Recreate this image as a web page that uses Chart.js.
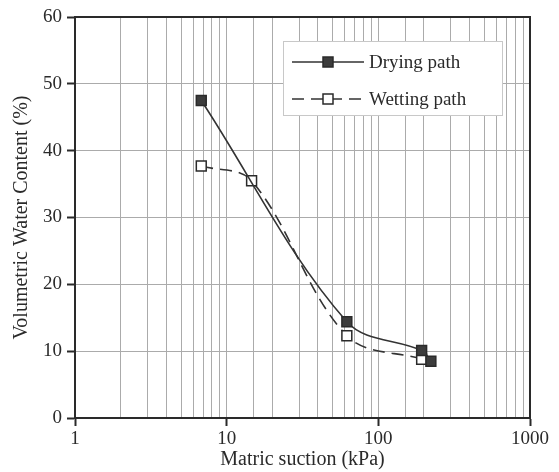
<!DOCTYPE html>
<html>
<head>
<meta charset="utf-8">
<script src="https://cdn.jsdelivr.net/npm/chart.js@4/dist/chart.umd.min.js"></script>
<style>
html,body{margin:0;padding:0;background:#fff;}
#wrap{width:559px;height:472px;}
</style>
</head>
<body>
<div id="wrap"><canvas id="c" width="559" height="472"></canvas></div>
<script>
// ---- data ----
const dryingLabel = "Drying path";
const wettingLabel = "Wetting path";
const dryingSuction = [6.8, 62, 193, 222];
const dryingWater = [47.5, 14.4, 10.1, 8.5];
const wettingSuction = [6.8, 14.6, 62, 193];
const wettingWater = [37.7, 35.5, 12.3, 8.8];
const xTickLabels = [1, 10, 100, 1000];
const yTicks = [0, 10, 20, 30, 40, 50, 60];

const FONT = "'Liberation Serif','DejaVu Serif','Times New Roman',serif";
const INK = '#2a2a2a';

function toPoints(xs, ys){ return xs.map((x,i)=>({x:x, y:ys[i]})); }

const frame = {
  id: 'frame',
  afterDatasetsDraw(chart){
    const a = chart.chartArea, ctx = chart.ctx;
    ctx.save();
    ctx.strokeStyle = INK; ctx.lineWidth = 2;
    ctx.beginPath();
    ctx.moveTo(a.left, a.top); ctx.lineTo(a.right, a.top); ctx.lineTo(a.right, a.bottom);
    ctx.stroke();
    ctx.restore();
  }
};

const legendBox = {
  id: 'legendBox',
  afterDraw(chart){
    const ctx = chart.ctx;
    const bx = 283, by = 41, bw = 219, bh = 74;
    ctx.save();
    ctx.fillStyle = '#fff';
    ctx.fillRect(bx, by, bw, bh);
    ctx.strokeStyle = '#c8c8c8'; ctx.lineWidth = 1;
    ctx.strokeRect(bx + 0.5, by + 0.5, bw, bh);
    const rows = [
      {ds: chart.data.datasets[0], y: 62},
      {ds: chart.data.datasets[1], y: 99}
    ];
    rows.forEach(r => {
      const ds = r.ds;
      ctx.strokeStyle = ds.borderColor; ctx.lineWidth = ds.borderWidth;
      ctx.setLineDash(ds.borderDash || []);
      ctx.beginPath(); ctx.moveTo(292, r.y); ctx.lineTo(364, r.y); ctx.stroke();
      ctx.setLineDash([]);
      ctx.fillStyle = ds.pointBackgroundColor;
      ctx.strokeStyle = ds.pointBorderColor; ctx.lineWidth = ds.pointBorderWidth;
      const s = 10;
      ctx.fillRect(328 - s/2, r.y - s/2, s, s);
      ctx.strokeRect(328 - s/2, r.y - s/2, s, s);
      ctx.fillStyle = INK;
      ctx.font = "19px " + FONT;
      ctx.textBaseline = 'middle';
      ctx.fillText(ds.label, 369, r.y + 1);
    });
    ctx.restore();
  }
};

function isPow10(v){ const l = Math.log10(v); return Math.abs(l - Math.round(l)) < 1e-9; }

new Chart(document.getElementById('c'), {
  type: 'scatter',
  data: {
    datasets: [
      {
        label: dryingLabel,
        data: toPoints(dryingSuction, dryingWater),
        showLine: true,
        borderColor: '#333',
        borderWidth: 1.6,
        tension: 0.35,
        pointStyle: 'rect',
        pointRadius: 7,
        pointBackgroundColor: '#3c3c3c',
        pointBorderColor: '#2a2a2a',
        pointBorderWidth: 1.5
      },
      {
        label: wettingLabel,
        data: toPoints(wettingSuction, wettingWater),
        showLine: true,
        borderColor: '#333',
        borderWidth: 1.6,
        borderDash: [12, 7],
        tension: 0.35,
        pointStyle: 'rect',
        pointRadius: 7,
        pointBackgroundColor: '#ffffff',
        pointBorderColor: '#2a2a2a',
        pointBorderWidth: 1.5
      }
    ]
  },
  options: {
    responsive: false,
    animation: false,
    layout: { padding: { top: 17, right: 29, left: 0, bottom: 0 } },
    plugins: { legend: { display: false }, tooltip: { enabled: false } },
    scales: {
      x: {
        type: 'logarithmic',
        min: 1, max: 1000,
        afterFit(s){ s.height = 54; },
        border: { color: INK, width: 2 },
        grid: {
          color: '#ababab', lineWidth: 1, drawTicks: true, tickLength: 8,
          tickColor: (c) => (c.tick && isPow10(c.tick.value)) ? INK : 'rgba(0,0,0,0)',
          tickWidth: 2
        },
        ticks: {
          autoSkip: false, maxRotation: 0, padding: 2,
          color: INK, font: { family: FONT, size: 19 },
          callback: (v) => xTickLabels.includes(v) ? String(v) : ''
        },
        title: { display: true, text: 'Matric suction (kPa)', color: INK,
          font: { family: FONT, size: 20 }, padding: { top: 0, bottom: 0 } }
      },
      y: {
        min: 0, max: 60,
        afterFit(s){ s.width = 75; },
        afterBuildTicks(s){ s.ticks = yTicks.map(v => ({value: v})); },
        border: { color: INK, width: 2 },
        grid: { color: '#ababab', lineWidth: 1, tickLength: 8, tickColor: INK, tickWidth: 2 },
        ticks: { stepSize: 10, padding: 5, color: INK, font: { family: FONT, size: 19 } },
        title: { display: true, text: 'Volumetric Water Content (%)', color: INK,
          font: { family: FONT, size: 20 }, padding: { top: 10, bottom: 0 } }
      }
    }
  },
  plugins: [frame, legendBox]
});
</script>
</body>
</html>
